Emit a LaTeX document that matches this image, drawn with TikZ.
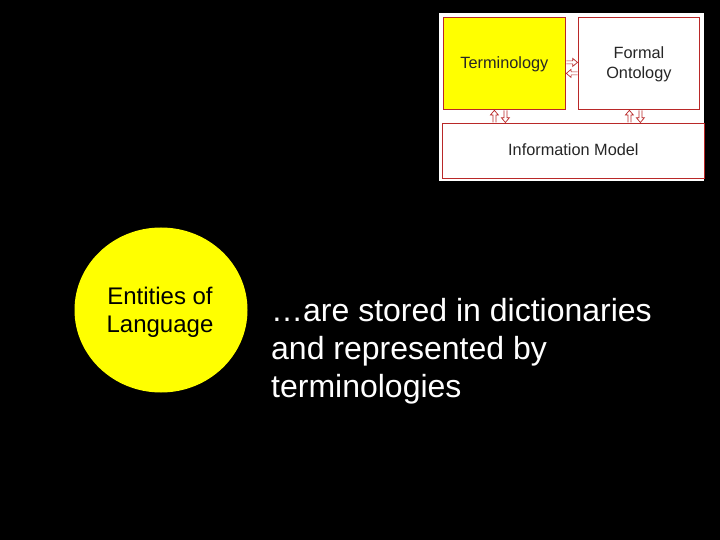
\documentclass[tikz,border=0pt]{standalone}
\usepackage{fontspec}
\setmainfont{Liberation Sans}
\usetikzlibrary{shapes.geometric,calc}
\definecolor{boxred}{RGB}{185,40,40}
\definecolor{sunyellow}{RGB}{255,255,0}
\tikzset{
  panelbox/.style={draw=boxred, line width=0.8pt, inner sep=0pt, anchor=north west},
  insettext/.style={font=\fontsize{16.3}{20}\selectfont, align=center, text=black!85},
  hollowarrow/.style={draw=boxred, line width=0.7pt, line join=miter, to path={
    ($(\tikztotarget)!4.8pt!(\tikztostart)$) coordinate (hh)
    ($(\tikztostart)!1.5pt!90:(\tikztotarget)$) -- ($(hh)!1.5pt!90:(\tikztotarget)$)
    -- ($(hh)!4pt!90:(\tikztotarget)$) -- (\tikztotarget)
    -- ($(hh)!4pt!-90:(\tikztotarget)$) -- ($(hh)!1.5pt!-90:(\tikztotarget)$)
    -- ($(\tikztostart)!1.5pt!-90:(\tikztotarget)$)}},
}
\begin{document}
\begin{tikzpicture}[x=1pt,y=-1pt]
  \fill[black] (0,0) rectangle (720,540);
  \useasboundingbox (0,0) rectangle (720,540);
  % inset panel
  \fill[white] (439,13) rectangle (704,181);
  \node[panelbox, fill=sunyellow, minimum width=122pt, minimum height=92pt] (term) at (443,17) {};
  \node[insettext] at ($(term.center)+(0,1)$) {Terminology};
  \node[panelbox, fill=white, minimum width=121pt, minimum height=92pt] (onto) at (578,17) {};
  \node[insettext] at ($(onto.center)+(0,1)$) {Formal\\Ontology};
  \node[panelbox, fill=white, minimum width=262pt, minimum height=55pt] (info) at (442,123) {};
  \node[insettext] at ($(info.center)+(0,-1)$) {Information Model};
  % arrows between boxes
  \draw[hollowarrow] ($(term.east)+(0.5,-1)$) to ($(onto.west)+(-0.5,-1)$);
  \draw[hollowarrow] ($(onto.west)+(-0.5,10)$) to ($(term.east)+(0.5,10)$);
  \draw[hollowarrow] ($(info.north -| term.south)+(-10,-0.5)$) to ($(term.south)+(-10,0.5)$);
  \draw[hollowarrow] ($(term.south)+(1,0.5)$) to ($(info.north -| term.south)+(1,-0.5)$);
  \draw[hollowarrow] ($(info.north -| onto.south)+(-9.5,-0.5)$) to ($(onto.south)+(-9.5,0.5)$);
  \draw[hollowarrow] ($(onto.south)+(1.5,0.5)$) to ($(info.north -| onto.south)+(1.5,-0.5)$);
  % circle
  \node[ellipse, fill=sunyellow, minimum width=173pt, minimum height=165pt, inner sep=0pt] (circ) at (161,310) {};
  \node[font=\fontsize{24}{28}\selectfont, align=center] (entities) at (160,312) {Entities of\\Language};
  % statement
  \node[font=\fontsize{32}{38}\selectfont, align=left, anchor=north west, text=white, inner sep=0pt] (stmt) at (271,298) {…are stored in dictionaries\\and represented by\\terminologies};
\end{tikzpicture}
\end{document}
